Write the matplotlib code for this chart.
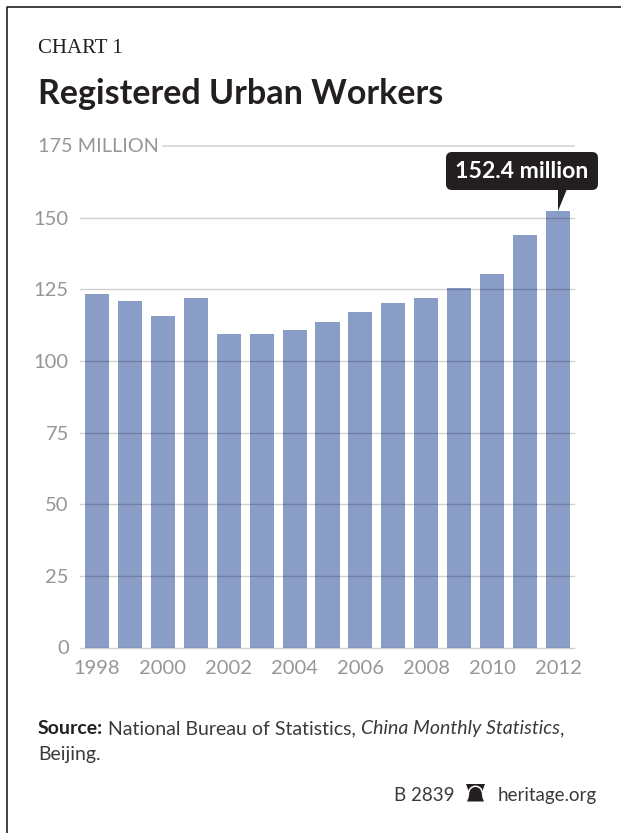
import matplotlib
matplotlib.use("Agg")
import matplotlib.pyplot as plt
from matplotlib.patches import FancyBboxPatch, Polygon, Wedge

plt.rcParams["font.family"] = ["Lato", "DejaVu Sans"]

years = list(range(1998, 2013))
workers = [123.3, 121.0, 115.8, 121.8, 109.5, 109.5, 110.9, 113.7, 116.9, 120.2, 121.9, 125.6, 130.4, 144.1, 152.4]
y_ticks = [0, 25, 50, 75, 100, 125, 150]
x_ticks = [1998, 2000, 2002, 2004, 2006, 2008, 2010, 2012]

W, H = 621, 833
BAR = "#8a9dc7"
GRAY = "#969696"
INK = "#231f20"
BODY = "#3a3a3a"

fig = plt.figure(figsize=(W / 100, H / 100), dpi=100)

# overlay in pixel coordinates for the frame, tooltip and text
page = fig.add_axes([0, 0, 1, 1])
page.set_xlim(0, W)
page.set_ylim(H, 0)
page.axis("off")
page.set_zorder(2)

ax = fig.add_axes([80 / W, 1 - 647.5 / H, 494 / W, 501.5 / H])
ax.bar(years, workers, width=0.73, color=BAR, zorder=2)
ax.set_xlim(1997.484, 2012.486)
ax.set_ylim(0, 175)
for s in ax.spines.values():
    s.set_visible(False)
ax.set_yticks(y_ticks)
ax.set_xticks(x_ticks)
ax.tick_params(length=0, labelsize=14.5, labelcolor=GRAY, pad=8)
ax.tick_params(axis="x", pad=9)
for v in y_ticks:
    ax.axhline(v, color="black", alpha=0.18, lw=1.0, zorder=3, clip_on=False)
ax.axhline(175, xmin=0.168, color="#d4d4d4", lw=1.2, clip_on=False)
ax.text(-42 / 494, 175, "175 MILLION", transform=ax.get_yaxis_transform(), color=GRAY,
        fontsize=14.3, va="center", ha="left")

# frame along the top and left edges
page.plot([6.5, 6.5, W], [H, 6.5, 6.5], color=INK, lw=1.2)

page.text(38, 53, "CHART 1", family="Liberation Serif", fontsize=15, color=INK, va="baseline")
page.text(38, 104, "Registered Urban Workers", fontsize=24.5, fontweight="bold", color=INK, va="baseline")

# callout on the last bar
tip = ax.transData.transform((2012, workers[-1]))
tip = page.transData.inverted().transform(tip)
page.add_patch(FancyBboxPatch((449, 155), 146, 32, boxstyle="round,pad=3,rounding_size=6", fc=INK, ec="none"))
page.add_patch(Polygon([(tip[0], tip[1]), (tip[0], 189), (tip[0] + 9, 189)], fc=INK, ec="none"))
page.text(522, 171.5, f"{workers[-1]} million", color="white", fontsize=16.6, fontweight="bold", ha="center", va="center")

# source line: bold, regular and italic runs placed one after another
renderer = fig.canvas.get_renderer()
x = 38
for txt, kw in [("Source:", {"fontweight": "bold", "color": INK}), (" National Bureau of Statistics, ", {"color": BODY}),
                ("China Monthly Statistics", {"fontstyle": "italic", "color": BODY}), (",", {"color": BODY})]:
    t = page.text(x, 734, txt.replace(" ", "\u00a0"), fontsize=14, va="baseline", **kw)
    x += t.get_window_extent(renderer).width
page.text(38, 760, "Beijing.", fontsize=14, color=BODY, va="baseline")

page.text(455, 801, "B 2839", fontsize=13.5, color=BODY, va="baseline", ha="right")
page.text(597, 801, "heritage.org", fontsize=13.5, color=BODY, va="baseline", ha="right")

# small bell mark: roof, white arch, then the bell body
page.add_patch(Polygon([(466, 784), (485, 784), (482, 792), (469, 792)], fc=INK, ec="none"))
page.add_patch(Wedge((475.5, 793), 7.5, 180, 360, fc="white", ec="none"))
page.add_patch(Wedge((475.5, 793), 6, 180, 360, fc=INK, ec="none"))
page.add_patch(Polygon([(469.5, 792), (481.5, 792), (482.5, 798), (484, 801.5), (467, 801.5), (468.5, 798)],
                       fc=INK, ec="none"))

fig.savefig("out.png", dpi=100)
